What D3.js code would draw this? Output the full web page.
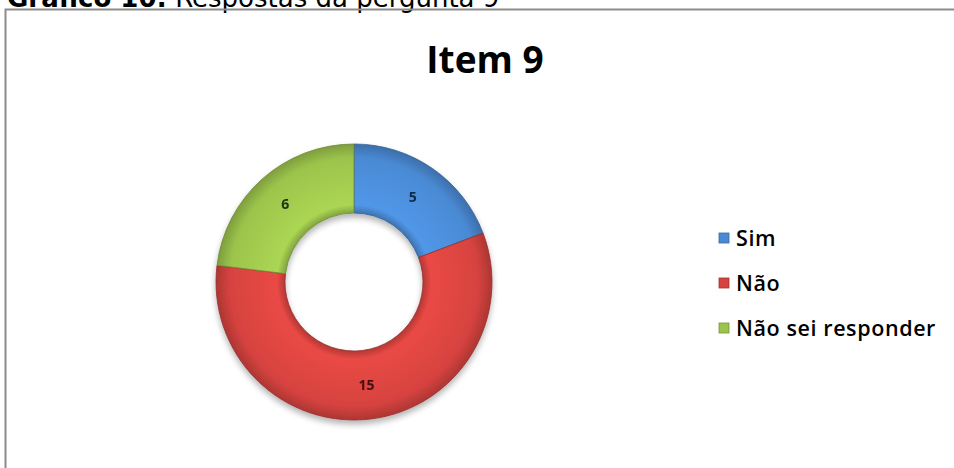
<!DOCTYPE html>
<html>
<head>
<meta charset="utf-8">
<script src="https://cdn.jsdelivr.net/npm/d3@7"></script>
<style>
  body { margin: 0; background: #fff; }
  svg { display: block; }
</style>
</head>
<body>
<div id="chart"></div>
<script>
var svgWidth = 954;
var svgHeight = 468;

// data
var categories = ["Sim", "Não", "Não sei responder"];
var counts = [5, 15, 6];
var colors = ["#4a8ad4", "#d6433f", "#9cc44c"];
var labelColors = ["#0f2a4e", "#4a0d0c", "#223510"];

var svg = d3.select("#chart")
  .append("svg")
  .attr("width", svgWidth)
  .attr("height", svgHeight);

var defs = svg.append("defs");

// soft bevel look like the office donut
colors.forEach(function(c, i) {
  var g = defs.append("radialGradient")
    .attr("id", "grad" + i)
    .attr("gradientUnits", "userSpaceOnUse")
    .attr("cx", 0).attr("cy", 0).attr("r", 138);
  g.append("stop").attr("offset", "0.5").attr("stop-color", d3.color(c).darker(0.5));
  g.append("stop").attr("offset", "0.56").attr("stop-color", d3.color(c).brighter(0.25));
  g.append("stop").attr("offset", "0.9").attr("stop-color", c);
  g.append("stop").attr("offset", "1").attr("stop-color", d3.color(c).darker(0.6));
});

var shadow = defs.append("filter").attr("id", "shadow")
  .attr("x", "-20%").attr("y", "-20%").attr("width", "140%").attr("height", "140%");
shadow.append("feGaussianBlur").attr("in", "SourceAlpha").attr("stdDeviation", 3);
shadow.append("feOffset").attr("dx", 0).attr("dy", 4).attr("result", "off");
shadow.append("feComponentTransfer").append("feFuncA").attr("type", "linear").attr("slope", 0.3);
var merge = shadow.append("feMerge");
merge.append("feMergeNode");
merge.append("feMergeNode").attr("in", "SourceGraphic");

// caption, cut at the top of the image like in the scan
var cap = svg.append("text")
  .attr("x", 7)
  .attr("y", 7)
  .style("font-family", "'DejaVu Sans', Verdana, sans-serif")
  .style("font-size", "26px")
  .style("fill", "#000");
cap.append("tspan").style("font-weight", "bold").text("Gráfico 10:");
cap.append("tspan").text(" Respostas da pergunta 9");

// frame
svg.append("path")
  .attr("d", "M5.5,468 V9.5 H954")
  .attr("fill", "none")
  .attr("stroke", "#8c8c8c")
  .attr("stroke-width", 2);

svg.append("text")
  .attr("x", 485)
  .attr("y", 73)
  .attr("text-anchor", "middle")
  .style("font-family", "'Open Sans', sans-serif")
  .style("font-weight", "bold")
  .style("font-size", "37px")
  .style("fill", "#000")
  .text("Item 9");

var cx = 354, cy = 282, outerR = 138, innerR = 69;

var pie = d3.pie().sort(null).value(function(d) { return d; });
var arc = d3.arc().innerRadius(innerR).outerRadius(outerR);
var labelArc = d3.arc().innerRadius((innerR + outerR) / 2).outerRadius((innerR + outerR) / 2);

var donut = svg.append("g")
  .attr("transform", "translate(" + cx + "," + cy + ")")
  .attr("filter", "url(#shadow)");

var slices = pie(counts);

donut.selectAll("path")
  .data(slices)
  .enter()
  .append("path")
  .attr("d", arc)
  .attr("fill", function(d, i) { return "url(#grad" + i + ")"; })
  .attr("stroke", function(d, i) { return d3.color(colors[i]).darker(1); })
  .attr("stroke-width", 0.8);

donut.selectAll("text")
  .data(slices)
  .enter()
  .append("text")
  .attr("x", function(d) { return labelArc.centroid(d)[0]; })
  .attr("y", function(d) { return labelArc.centroid(d)[1]; })
  .attr("dy", "0.35em")
  .attr("text-anchor", "middle")
  .style("font-family", "'Open Sans', sans-serif")
  .style("font-weight", "bold")
  .style("font-size", "14px")
  .style("fill", function(d, i) { return labelColors[i]; })
  .text(function(d) { return d.data; });

// legend
var legend = svg.append("g").attr("transform", "translate(719,238)");
var item = legend.selectAll("g")
  .data(categories)
  .enter()
  .append("g")
  .attr("transform", function(d, i) { return "translate(0," + i * 45 + ")"; });

item.append("rect")
  .attr("x", 0).attr("y", -5)
  .attr("width", 10).attr("height", 10)
  .attr("fill", function(d, i) { return colors[i]; })
  .attr("stroke", function(d, i) { return d3.color(colors[i]).darker(0.8); })
  .attr("stroke-width", 0.8);

item.append("text")
  .attr("x", 17)
  .attr("y", 0)
  .attr("dy", "0.36em")
  .style("font-family", "'Open Sans', sans-serif")
  .style("font-weight", "600")
  .style("font-size", "21.5px")
  .style("letter-spacing", "0.6px")
  .style("fill", "#000")
  .text(function(d) { return d; });
</script>
</body>
</html>
